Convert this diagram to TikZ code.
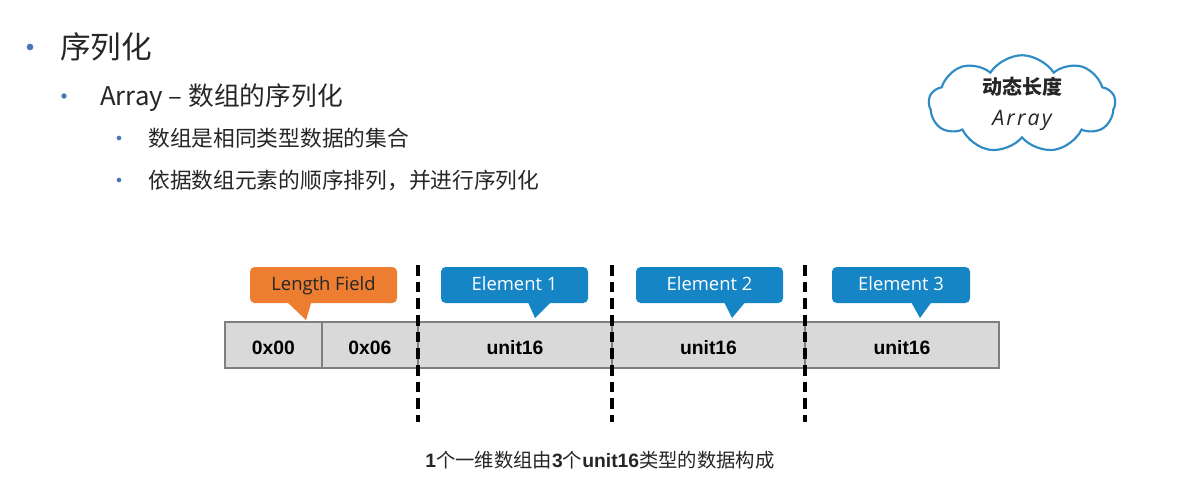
\documentclass[tikz,border=0pt]{standalone}
\usepackage{fontspec}
\setmainfont{Noto Sans CJK SC}
\newfontfamily\latinsans{Liberation Sans}
\newfontfamily\calloutfont{Open Sans}
\newfontfamily\handfont[LetterSpace=10]{Open Sans}
\usetikzlibrary{shapes.symbols}

\definecolor{txt}{HTML}{262626}
\definecolor{bul}{HTML}{4A76B8}
\definecolor{orng}{HTML}{ED7D31}
\definecolor{blu}{HTML}{1585C6}
\definecolor{barfill}{HTML}{D9D9D9}
\definecolor{barline}{HTML}{7F7F7F}
\definecolor{cloudline}{HTML}{2E8BC6}

\begin{document}
\begin{tikzpicture}[x=0.75pt,y=-0.75pt,
  bulletdot/.style={circle, fill=bul, inner sep=0pt, minimum size=4.5pt},
  lvlone/.style={anchor=base west, inner sep=0pt, text=txt, font=\fontsize{23}{27}\selectfont},
  lvltwo/.style={anchor=base west, inner sep=0pt, text=txt, font=\fontsize{19.3}{23}\selectfont},
  lvlthree/.style={anchor=base west, inner sep=0pt, text=txt, font=\fontsize{16.3}{19}\selectfont},
  tag/.style={rounded corners=3.5pt, inner sep=0pt, minimum width=110.25pt, minimum height=27pt,
              text height=10.5pt, text depth=2.5pt, font=\calloutfont\fontsize{13.8}{16}\selectfont},
  cell/.style={draw=barline, fill=barfill, line width=0.9pt, minimum height=34.5pt, inner sep=0pt,
               text height=14.9pt, text depth=0pt,
               text=black, font=\latinsans\bfseries\fontsize{14.5}{17}\selectfont},
  divider/.style={line width=2.6pt, dash pattern=on 8pt off 4.5pt},
]
\useasboundingbox[fill=white] (0,0) rectangle (1183,503);

% bullet list
\node[bulletdot, minimum size=5pt] (b1) at (30,47) {};
\node[lvlone] (t1) at (60,58.7) {序列化};
\node[bulletdot, minimum size=4pt] (b2) at (64,96) {};
\node[lvltwo] (t2) at (100,105.8) {Array – 数组的序列化};
\node[bulletdot, minimum size=3.5pt] (b3) at (119,138) {};
\node[lvlthree] (t3) at (148,146.3) {数组是相同类型数据的集合};
\node[bulletdot, minimum size=3.5pt] (b4) at (119,180) {};
\node[lvlthree] (t4) at (148,188.3) {依据数组元素的顺序排列，并进行序列化};

% cloud
\node[cloud, cloud puffs=9, cloud puff arc=115, aspect=1.9, draw=cloudline, line width=1.6pt,
      minimum width=140pt, minimum height=72pt, inner sep=0pt, align=center,
      text=txt, font=\fontsize{16}{21}\selectfont] (cl) at (1022,104)
  {{\bfseries\fontsize{15}{21}\selectfont 动态长度}\\[2pt]{\handfont\itshape Array}};

% array bar
\node[cell, minimum width=72.75pt] (c0) at (273.5,345) {0x00};
\node[cell, minimum width=72pt] (c1) at (370,345) {0x06};
\node[cell, minimum width=145.5pt] (e1) at (515,345) {unit16};
\node[cell, minimum width=144.75pt] (e2) at (708.5,345) {unit16};
\node[cell, minimum width=145.5pt] (e3) at (902,345) {unit16};

% callout tags
\fill[orng] (285,300) -- (312,300) -- (306,320) -- cycle;
\node[tag, fill=orng, text=txt] (lf) at (323.5,285) {Length Field};
\fill[blu] (527,300) -- (553,300) -- (535,318) -- cycle;
\node[tag, fill=blu, text=white] (g1) at (514.5,285) {Element 1};
\fill[blu] (723,300) -- (747,300) -- (732,318) -- cycle;
\node[tag, fill=blu, text=white] (g2) at (709.5,285) {Element 2};
\fill[blu] (910,300) -- (933,300) -- (920,318) -- cycle;
\node[tag, fill=blu, text=white, minimum width=103.5pt] (g3) at (901,285) {Element 3};

% element boundaries
\coordinate (d1t) at (418,265); \coordinate (d1b) at (418,422);
\coordinate (d2t) at (612,265); \coordinate (d2b) at (612,422);
\coordinate (d3t) at (805,265); \coordinate (d3b) at (805,422);
\draw[divider] (d1t) -- (d1b);
\draw[divider] (d2t) -- (d2b);
\draw[divider] (d3t) -- (d3b);

% caption
\node[anchor=base, inner sep=0pt, text=txt, font=\fontsize{14.5}{17}\selectfont] (cap) at (600,467.5)
  {{\latinsans\bfseries 1}个一维数组由{\latinsans\bfseries 3}个{\latinsans\bfseries unit16}类型的数据构成};
\end{tikzpicture}
\end{document}
